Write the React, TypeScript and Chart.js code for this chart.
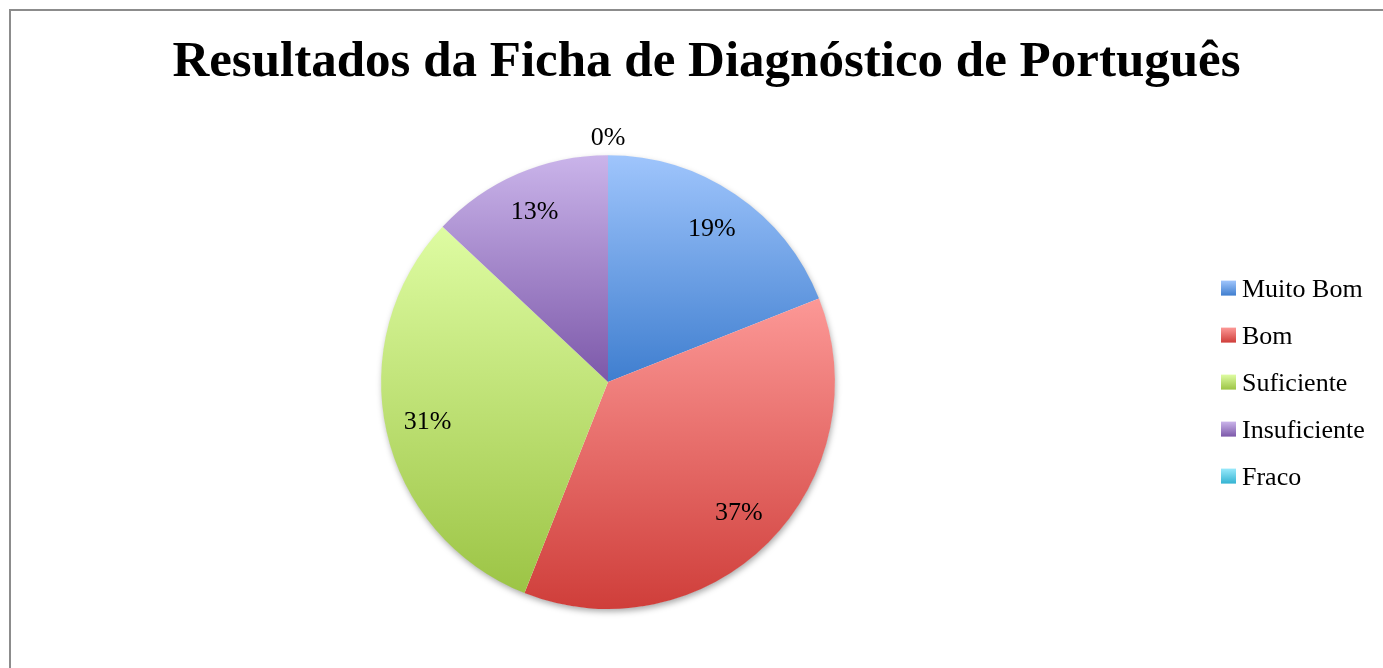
import React, { useEffect, useRef } from 'react';
import { Chart, registerables, layouts } from 'chart.js';

Chart.register(...registerables);

const categories = ['Muito Bom', 'Bom', 'Suficiente', 'Insuficiente', 'Fraco'];
const percentages = [19, 37, 31, 13, 0];
const topColors = ['#9fc5fc', '#fc9896', '#defca2', '#cab4ea', '#98e9fb'];
const bottomColors = ['#3f7ecf', '#cf3e3a', '#9cc445', '#7c58a9', '#34b3d2'];
const titleText = 'Resultados da Ficha de Diagnóstico de Português';

const SERIF = '"Liberation Serif", "Times New Roman", serif';

function sliceGradient(context: any) {
  const chart = context.chart;
  const area = chart.chartArea;
  const i = context.dataIndex;
  if (!area || context.type !== 'data') return topColors[i] || topColors[0];
  const data: number[] = context.dataset.data;
  const total = data.reduce((a, b) => a + b, 0) || 1;
  let cum = 0;
  for (let j = 0; j < i; j++) cum += data[j];
  const start = -Math.PI / 2 + (cum / total) * Math.PI * 2;
  const end = start + (data[i] / total) * Math.PI * 2;
  const cy = (area.top + area.bottom) / 2;
  const r = Math.min(area.right - area.left, area.bottom - area.top) / 2;
  let minY = cy;
  let maxY = cy;
  const steps = 120;
  for (let k = 0; k <= steps; k++) {
    const a = start + ((end - start) * k) / steps;
    const y = cy + Math.sin(a) * r;
    if (y < minY) minY = y;
    if (y > maxY) maxY = y;
  }
  if (maxY - minY < 1) maxY = minY + 1;
  const g = chart.ctx.createLinearGradient(0, minY, 0, maxY);
  g.addColorStop(0, topColors[i]);
  g.addColorStop(1, bottomColors[i]);
  return g;
}

const customLegendPlugin = {
  id: 'customLegend',
  beforeInit(chart: any) {
    const box: any = {
      position: 'right',
      weight: 1000,
      fullSize: false,
      options: {},
      width: 0,
      height: 0,
      left: 0,
      top: 0,
      right: 0,
      bottom: 0,
      isHorizontal() {
        return false;
      },
      update(maxWidth: number, maxHeight: number) {
        this.width = Math.min(197, maxWidth);
        this.height = maxHeight;
      },
      draw() {
        const ctx = chart.ctx;
        const labels: string[] = chart.data.labels;
        const n = labels.length;
        const cy = (this.top + this.bottom) / 2;
        const spacing = 47;
        ctx.save();
        ctx.font = `26px ${SERIF}`;
        ctx.textAlign = 'left';
        ctx.textBaseline = 'alphabetic';
        labels.forEach((lab, i) => {
          const yc = cy + (i - (n - 1) / 2) * spacing;
          const bx = this.left + 16;
          const by = yc - 7.5;
          const g = ctx.createLinearGradient(0, by, 0, by + 15);
          g.addColorStop(0, topColors[i]);
          g.addColorStop(1, bottomColors[i]);
          ctx.fillStyle = g;
          ctx.fillRect(bx, by, 15, 15);
          ctx.fillStyle = '#000';
          ctx.fillText(lab, this.left + 37, yc + 8.6);
        });
        ctx.restore();
      },
    };
    layouts.addBox(chart, box);
  },
};

const shadowPlugin = {
  id: 'pieShadow',
  beforeDatasetsDraw(chart: any) {
    const meta = chart.getDatasetMeta(0);
    const arc = meta.data[0];
    if (!arc) return;
    const { x, y, outerRadius } = arc.getProps(['x', 'y', 'outerRadius'], true);
    const ctx = chart.ctx;
    ctx.save();
    ctx.beginPath();
    ctx.arc(x, y, outerRadius - 0.5, 0, Math.PI * 2);
    ctx.shadowColor = 'rgba(0,0,0,0.35)';
    ctx.shadowBlur = 6;
    ctx.shadowOffsetX = 1;
    ctx.shadowOffsetY = 3;
    ctx.fillStyle = '#ffffff';
    ctx.fill();
    ctx.restore();
  },
};

const valueLabelPlugin = {
  id: 'valueLabels',
  afterDatasetsDraw(chart: any) {
    const meta = chart.getDatasetMeta(0);
    const data: number[] = chart.data.datasets[0].data;
    const ctx = chart.ctx;
    ctx.save();
    ctx.font = `26px ${SERIF}`;
    ctx.fillStyle = '#000';
    ctx.textAlign = 'center';
    ctx.textBaseline = 'middle';
    meta.data.forEach((arc: any, i: number) => {
      const { x, y, startAngle, endAngle, outerRadius } = arc.getProps(
        ['x', 'y', 'startAngle', 'endAngle', 'outerRadius'],
        true
      );
      const mid = (startAngle + endAngle) / 2;
      const dist = data[i] === 0 ? outerRadius + 17 : outerRadius * 0.815;
      ctx.fillText(`${data[i]}%`, x + Math.cos(mid) * dist, y + Math.sin(mid) * dist);
    });
    ctx.restore();
  },
};

export default function App() {
  const canvasRef = useRef<HTMLCanvasElement>(null);

  useEffect(() => {
    const canvas = canvasRef.current;
    if (!canvas) return;
    const chart = new Chart(canvas, {
      type: 'pie',
      data: {
        labels: categories,
        datasets: [
          {
            data: percentages,
            backgroundColor: sliceGradient as any,
            borderWidth: 0,
          },
        ],
      },
      options: {
        responsive: false,
        animation: false,
        devicePixelRatio: 1,
        layout: { padding: { left: 0, right: 0, top: 0, bottom: 59 } },
        plugins: {
          legend: { display: false },
          tooltip: { enabled: false },
          title: {
            display: true,
            text: titleText,
            color: '#000',
            font: { family: SERIF, size: 51, weight: 'bold', lineHeight: 1.2 },
            padding: { top: 21, bottom: 62 },
          },
        },
      } as any,
      plugins: [customLegendPlugin, shadowPlugin, valueLabelPlugin],
    });
    return () => chart.destroy();
  }, []);

  return (
    <div
      style={{
        position: 'absolute',
        left: 9,
        top: 9,
        width: 1374,
        height: 659,
        boxSizing: 'border-box',
        borderLeft: '2px solid #8c8c8c',
        borderTop: '2px solid #8c8c8c',
        overflow: 'hidden',
        background: '#fff',
      }}
    >
      <canvas
        ref={canvasRef}
        width={1391}
        height={657}
        style={{ display: 'block', width: 1391, height: 657 }}
      />
    </div>
  );
}
